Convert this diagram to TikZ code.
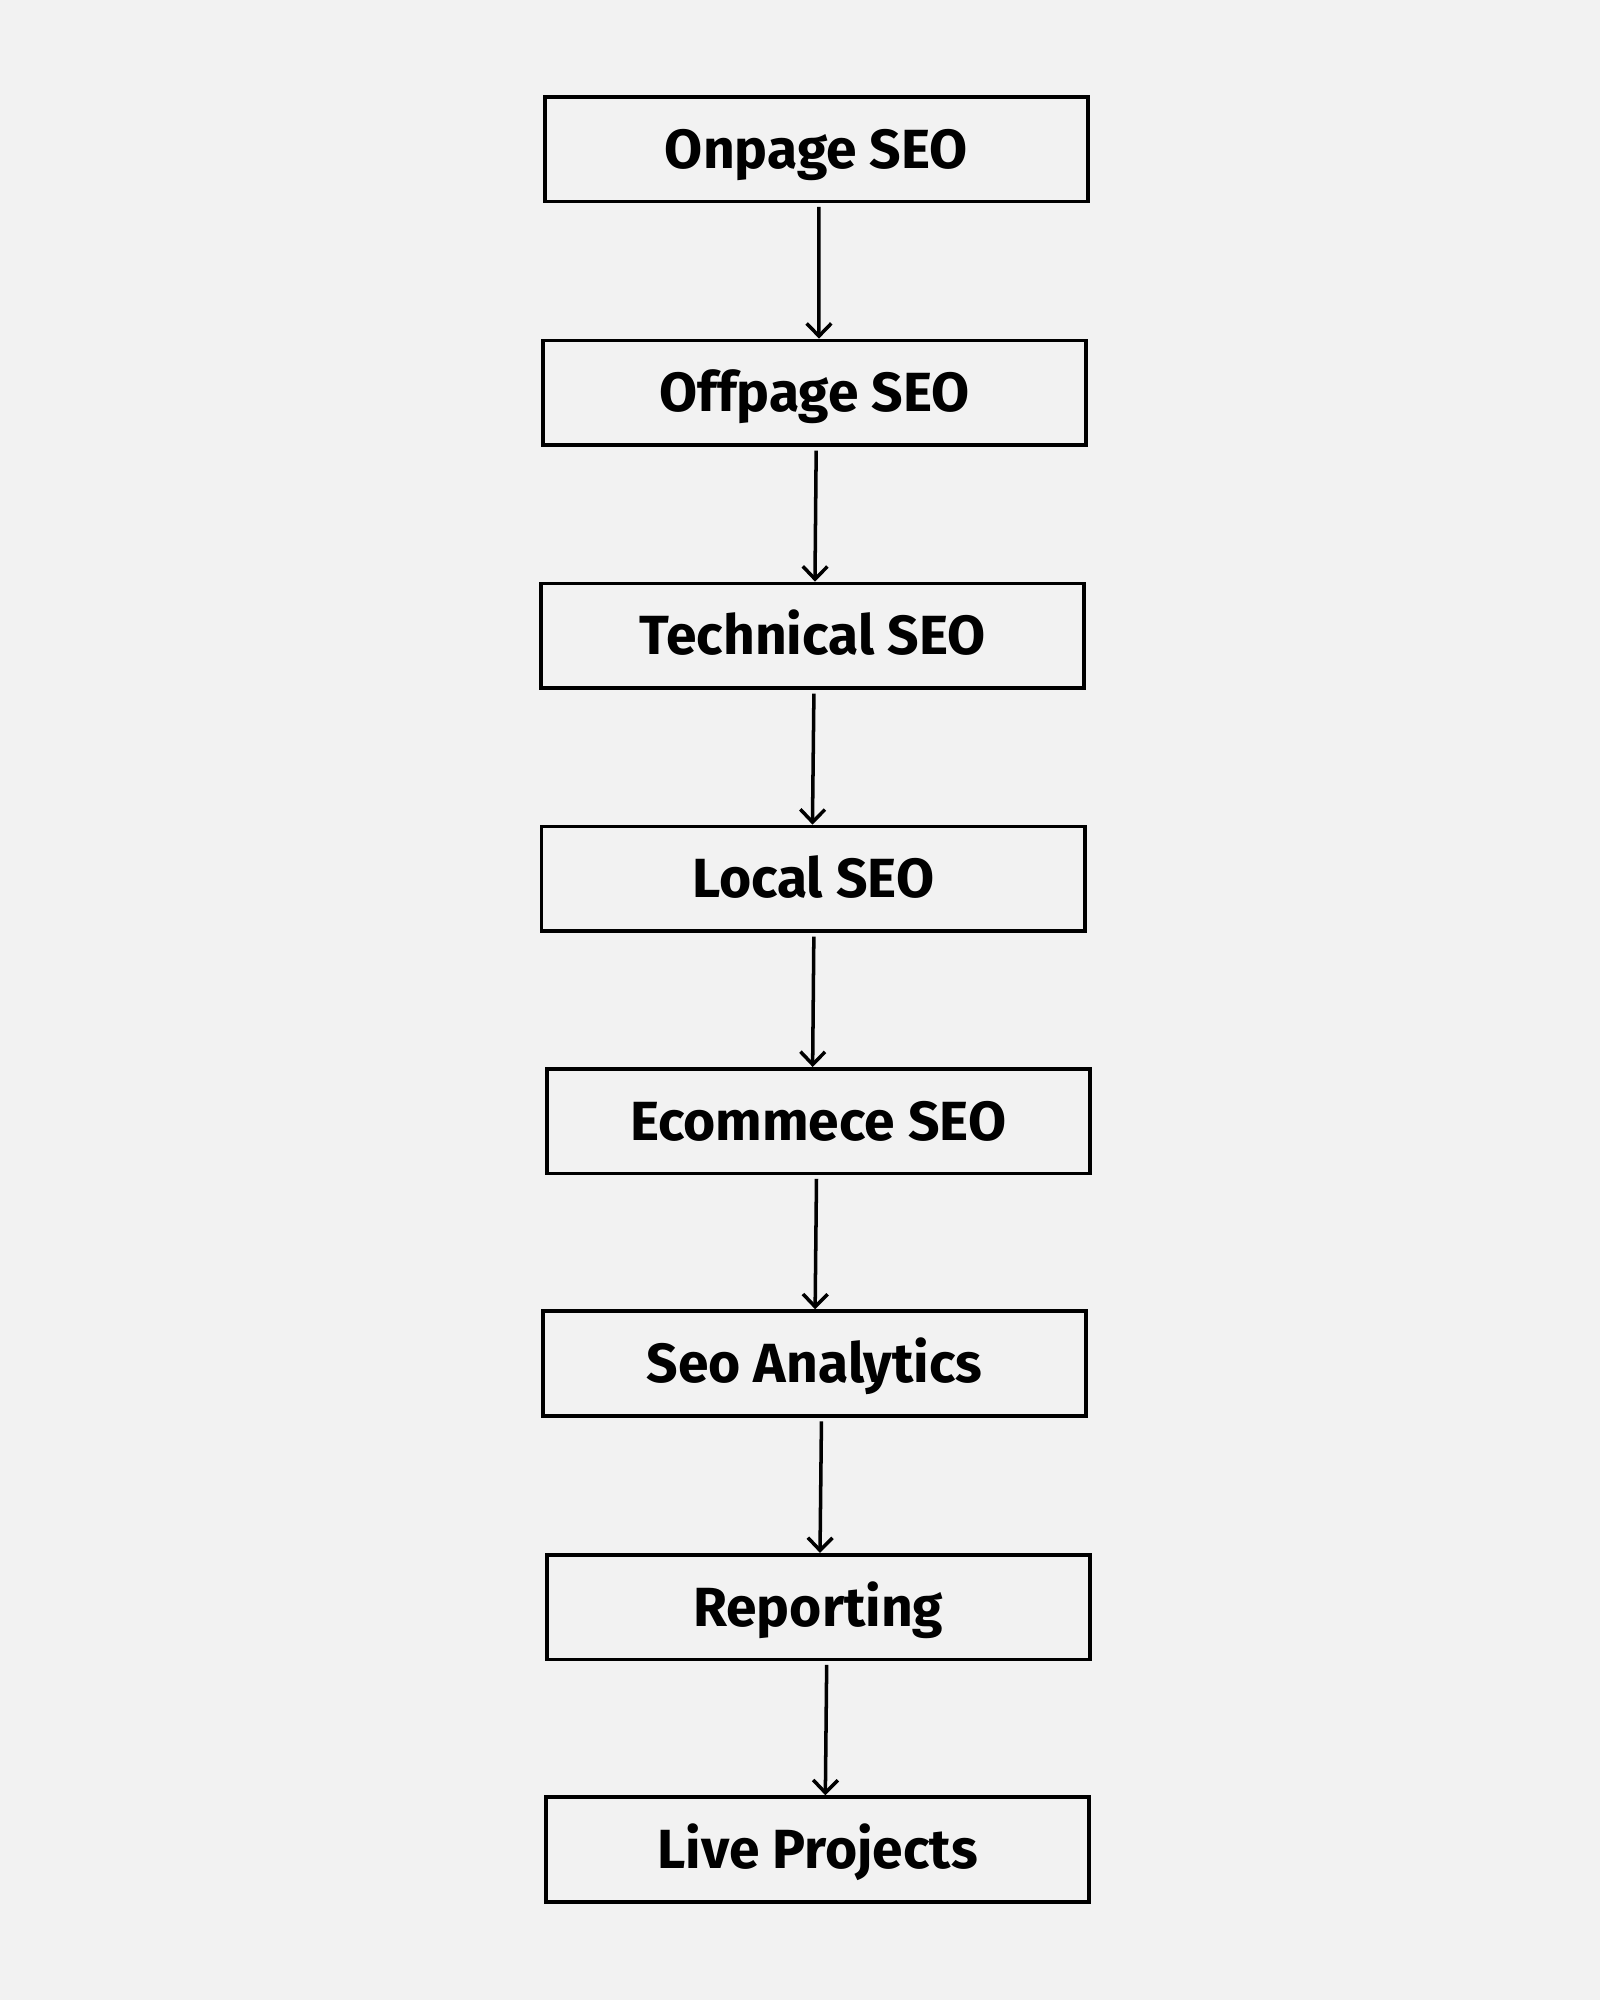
\documentclass[tikz,border=0pt]{standalone}
\usepackage{fontspec}
\setmainfont{Fira Sans}
\usetikzlibrary{arrows.meta}
\definecolor{bgcol}{HTML}{F2F2F2}
\tikzset{%
  nextarrow/.style = {-{Straight Barb[length=3.6pt,width=7pt,line width=1pt]},line width=1pt},
  stage/.style = {rectangle,draw,line width=1.1pt,minimum width=5.434cm,
        minimum height=1.046cm,inner sep=0pt,text height=10.8pt,text depth=0pt,
        font=\fontsize{15.7}{18}\selectfont\bfseries}
}

\begin{document}
\begin{tikzpicture}[x=0.012755cm,y=-0.012755cm]
   \fill[bgcol] (0,0) rectangle (1254,1568);
   \useasboundingbox (0,0) rectangle (1254,1568);

   \node[stage] (onpage) at (640,117) {Onpage SEO};
   \node[stage] (offpage) at (638.5,308) {Offpage SEO};
   \node[stage] (technical) at (637,498.5) {Technical SEO};
   \node[stage] (local) at (637.5,689) {Local SEO};
   \node[stage] (ecommerce) at (641.5,879) {Ecommece SEO};
   \node[stage] (analytics) at (638.5,1069) {Seo Analytics};
   \node[stage] (reporting) at (641.5,1260) {Reporting};
   \node[stage] (live) at (641,1450) {Live Projects};

   \draw[nextarrow] ([xshift=0.7pt,yshift=-1pt]onpage.south) -- ([xshift=1.3pt]offpage.north);
   \draw[nextarrow] ([xshift=0.5pt,yshift=-1pt]offpage.south) -- ([xshift=0.7pt]technical.north);
   \draw[nextarrow] ([xshift=0.4pt,yshift=-1pt]technical.south) -- ([xshift=-0.2pt]local.north);
   \draw[nextarrow] ([xshift=0.2pt,yshift=-1pt]local.south) -- ([xshift=-1.6pt]ecommerce.north);
   \draw[nextarrow] ([xshift=-0.5pt,yshift=-1pt]ecommerce.south) -- ([xshift=0.2pt]analytics.north);
   \draw[nextarrow] ([xshift=2pt,yshift=-1pt]analytics.south) -- ([xshift=0.5pt]reporting.north);
   \draw[nextarrow] ([xshift=2.4pt,yshift=-1pt]reporting.south) -- ([xshift=2.2pt]live.north);
\end{tikzpicture}
\end{document}
